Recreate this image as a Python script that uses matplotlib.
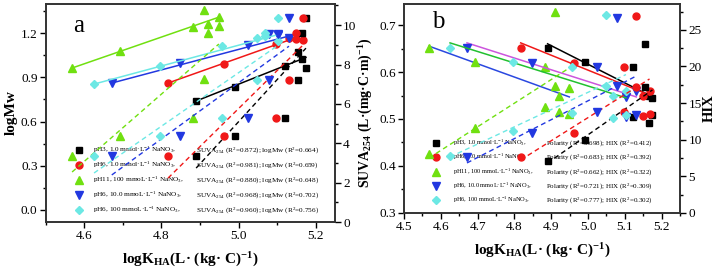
import matplotlib.pyplot as plt
import numpy as np
from matplotlib.ticker import MultipleLocator

plt.rcParams['font.family'] = ['Liberation Serif', 'DejaVu Serif']
plt.rcParams['mathtext.fontset'] = 'custom'
plt.rcParams['mathtext.rm'] = 'Liberation Serif'
plt.rcParams['mathtext.it'] = 'Liberation Serif:italic'
plt.rcParams['mathtext.bf'] = 'Liberation Serif:bold'

# five conditions, six fractions each
conditions = ['pH3, 1.0 mmol·L$^{-1}$ NaNO$_3$,',
              'pH6, 1.0 mmol·L$^{-1}$ NaNO$_3$,',
              'pH11, 100 mmoL·L$^{-1}$ NaNO$_3$,',
              'pH6, 10.0 mmoL·L$^{-1}$ NaNO$_3$,',
              'pH6, 100 mmoL·L$^{-1}$ NaNO$_3$,']
r2_suva = ['0.872', '0.981', '0.880', '0.968', '0.960']
r2_mw = ['0.664', '0.659', '0.648', '0.702', '0.756']
r2_pol = ['0.698', '0.683', '0.662', '0.721', '0.777']
r2_hix = ['0.412', '0.392', '0.322', '0.309', '0.302']

logk = [[4.890, 4.991, 5.121, 5.155, 5.165, 5.175],
        [4.817, 4.962, 5.097, 5.131, 5.149, 5.167],
        [4.568, 4.692, 4.882, 4.910, 4.921, 4.949],
        [4.671, 4.848, 5.025, 5.079, 5.103, 5.131],
        [4.625, 4.796, 4.957, 5.048, 5.069, 5.103]]
logmw = [[0.739, 0.834, 0.976, 1.071, 1.024, 0.963],
         [0.861, 0.990, 1.125, 1.166, 1.159, 1.153],
         [0.963, 1.078, 1.241, 1.358, 1.261, 1.308],
         [0.861, 0.997, 1.119, 1.193, 1.186, 1.166],
         [0.854, 0.976, 1.112, 1.166, 1.180, 1.146]]
suva = [[3.35, 4.37, 5.28, 7.21, 9.59, 10.36],
        [3.35, 4.37, 5.28, 7.21, 9.59, 10.36],
        [3.35, 4.37, 5.28, 7.26, 9.59, 9.95],
        [3.35, 4.37, 5.28, 7.21, 9.54, 10.36],
        [3.35, 4.37, 5.28, 7.21, 9.59, 10.36]]
polarity = [[0.651, 0.621, 0.611, 0.660, 0.549, 0.545],
            [0.651, 0.619, 0.611, 0.719, 0.549, 0.560],
            [0.651, 0.621, 0.611, 0.728, 0.549, 0.566],
            [0.651, 0.619, 0.611, 0.715, 0.547, 0.560],
            [0.651, 0.621, 0.611, 0.721, 0.549, 0.560]]
hix = [[7.10, 9.97, 13.1, 17.2, 12.3, 13.4],
       [7.65, 10.9, 13.8, 17.2, 13.3, 13.5],
       [8.06, 11.6, 14.5, 17.3, 13.8, 13.5],
       [7.65, 10.9, 13.8, 17.3, 13.1, 13.4],
       [7.79, 11.2, 13.7, 17.3, 13.0, 13.4]]

# fitted line values at the lowest and highest logKHA of each condition
mw_fit = [(0.739, 1.035), (0.861, 1.186), (0.963, 1.308), (0.861, 1.18), (0.854, 1.19)]
suva_fit = [(2.74, 8.83), (2.23, 8.98), (2.54, 9.04), (2.39, 8.93), (2.49, 8.98)]
pol_fit = [(0.660, 0.547), (0.662, 0.551), (0.655, 0.547), (0.662, 0.547), (0.662, 0.545)]
hix_fit = [(6.83, 16.8), (7.24, 18.3), (7.51, 19.8), (6.83, 18.7), (7.65, 18.9)]

colors = ['#000000', '#f01818', '#70e010', '#2238e0', '#6ce8e4']
markers = ['s', 'o', '^', 'v', 'D']
msizes = [4.3, 5, 5.5, 5.5, 4.3]
pol_line_colors = ['#000000', '#f01818', '#2a48e0', '#cc55dd', '#22c030']

xlab = r'logK$_{\mathbf{HA}}$(L· (kg· C)$^{\mathbf{-1}}$)'


def style(ax):
    ax.tick_params(direction='out', length=4, width=1, labelsize=9.5, pad=2)
    ax.tick_params(which='minor', direction='out', length=2.5, width=1)
    for s in ax.spines.values():
        s.set_linewidth(1.2)
        s.set_color('#333333')


fig = plt.figure(figsize=(7.17, 2.78), dpi=100)

# ---- panel a
ax1 = fig.add_axes([0.064, 0.2014, 0.403, 0.784])
ax2 = ax1.twinx()
for i in range(5):
    x = np.array(logk[i])
    ends = [x.min(), x.max()]
    ax1.plot(ends, mw_fit[i], color=colors[i], lw=1.1)
    ax2.plot(ends, suva_fit[i], color=colors[i], lw=1.0, ls=(0, (3.5, 2.5)))
    ax1.plot(x, logmw[i], ls='none', marker=markers[i], ms=msizes[i], color=colors[i])
    ax2.plot(x, suva[i], ls='none', marker=markers[i], ms=msizes[i], color=colors[i])

ax1.set_xlim(4.5, 5.25)
ax1.set_ylim(-0.082, 1.397)
ax2.set_ylim(0, 11.07)
ax1.xaxis.set_major_locator(MultipleLocator(0.2))
ax1.xaxis.set_minor_locator(MultipleLocator(0.1))
ax1.yaxis.set_major_locator(MultipleLocator(0.3))
ax1.yaxis.set_minor_locator(MultipleLocator(0.15))
ax2.yaxis.set_major_locator(MultipleLocator(2))
ax2.yaxis.set_minor_locator(MultipleLocator(1))
ax1.yaxis.set_major_formatter(plt.FormatStrFormatter('%.1f'))
style(ax1)
style(ax2)
ax1.set_xlabel(xlab, fontsize=11, fontweight='bold', labelpad=6)
ax1.set_ylabel('logMw', fontsize=11, fontweight='bold', labelpad=2)
ax2.set_ylabel(r'SUVA$_{\mathbf{254}}$ (L·(mg·C·m)$^{\mathbf{-1}}$)', fontsize=10,
               fontweight='bold', labelpad=0)
ax1.text(0.095, 0.90, 'a', transform=ax1.transAxes, fontsize=18, va='center')

rows_a = [0.330, 0.261, 0.193, 0.124, 0.055]
for i in range(5):
    ax1.plot([0.114], [rows_a[i]], transform=ax1.transAxes, ls='none',
             marker=markers[i], ms=msizes[i], color=colors[i], clip_on=False)
    ax1.text(0.163, rows_a[i], conditions[i], transform=ax1.transAxes,
             fontsize=5.2, va='center')
    ax1.text(0.519, rows_a[i],
             'SUVA$_{254}$ (R$^2$=' + r2_suva[i] + '); logMw (R$^2$=' + r2_mw[i] + ')',
             transform=ax1.transAxes, fontsize=5.2, va='center')

# ---- panel b
bx1 = fig.add_axes([0.5635, 0.234, 0.385, 0.752])
bx2 = bx1.twinx()
for i in range(5):
    x = np.array(logk[i])
    ends = [x.min(), x.max()]
    bx1.plot(ends, pol_fit[i], color=pol_line_colors[i], lw=1.1)
    bx2.plot(ends, hix_fit[i], color=colors[i], lw=1.0, ls=(0, (3.5, 2.5)))
    bx1.plot(x, polarity[i], ls='none', marker=markers[i], ms=msizes[i], color=colors[i])
    bx2.plot(x, hix[i], ls='none', marker=markers[i], ms=msizes[i], color=colors[i])

bx1.set_xlim(4.5, 5.25)
bx1.set_ylim(0.3, 0.745)
bx2.set_ylim(0, 28.55)
bx1.xaxis.set_major_locator(MultipleLocator(0.1))
bx1.xaxis.set_minor_locator(MultipleLocator(0.05))
bx1.yaxis.set_major_locator(MultipleLocator(0.1))
bx1.yaxis.set_minor_locator(MultipleLocator(0.05))
bx2.yaxis.set_major_locator(MultipleLocator(5))
bx2.yaxis.set_minor_locator(MultipleLocator(2.5))
style(bx1)
style(bx2)
bx1.set_xlabel(xlab, fontsize=11, fontweight='bold', labelpad=6)
bx2.set_ylabel('HIX', fontsize=10.5, fontweight='bold', labelpad=1)
bx1.text(0.10, 0.915, 'b', transform=bx1.transAxes, fontsize=18, va='center')

rows_b = [0.335, 0.268, 0.196, 0.129, 0.062]
for i in range(5):
    bx1.plot([0.116], [rows_b[i]], transform=bx1.transAxes, ls='none',
             marker=markers[i], ms=msizes[i], color=colors[i], clip_on=False)
    bx1.text(0.178, rows_b[i], conditions[i], transform=bx1.transAxes,
             fontsize=4.6, va='center')
    bx1.text(0.514, rows_b[i],
             'Polarity (R$^2$=' + r2_pol[i] + '); HIX (R$^2$=' + r2_hix[i] + ')',
             transform=bx1.transAxes, fontsize=5.0, va='center')

fig.savefig('out.png', dpi=100)
